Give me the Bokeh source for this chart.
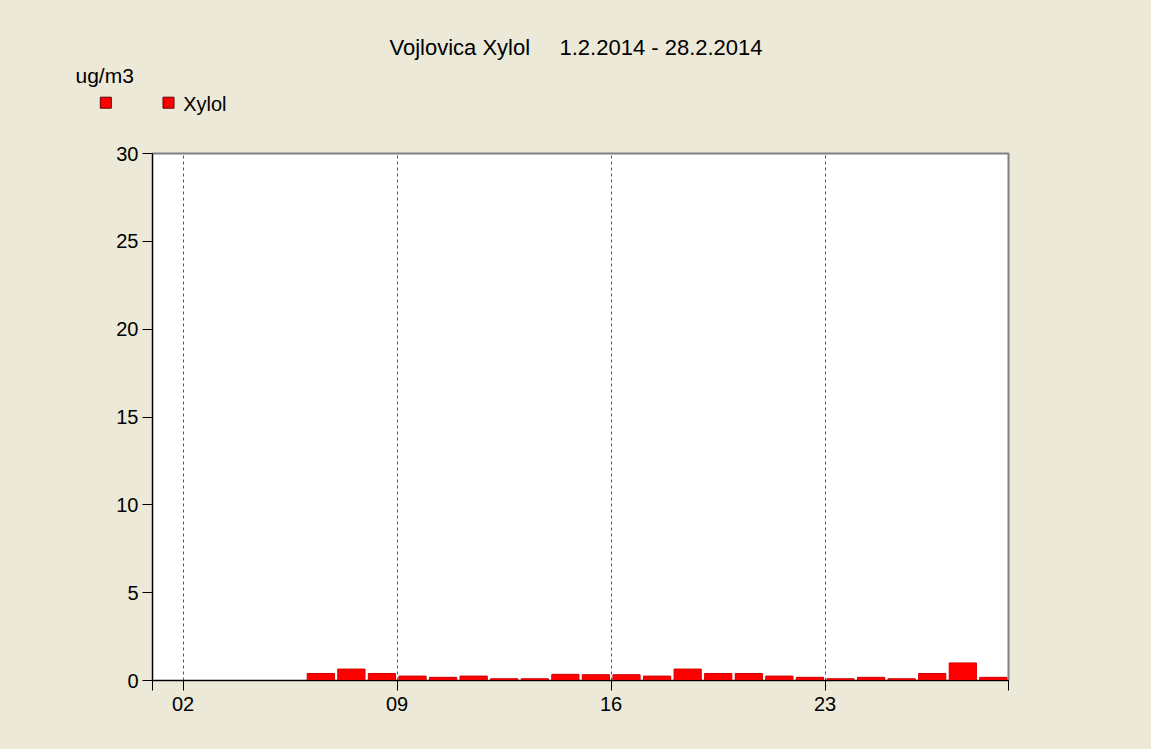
from bokeh.plotting import figure
from bokeh.models import Range1d, FixedTicker
from bokeh.layouts import column
from bokeh.core.properties import value
from bokeh.embed import file_html
from bokeh.resources import INLINE

# ---- data ----
days = [6, 7, 8, 9, 10, 11, 12, 13, 14, 15, 16, 17, 18, 19, 20, 21, 22, 23, 24, 25, 26, 27, 28]
xylol = [0.40, 0.65, 0.40, 0.25, 0.18, 0.25, 0.10, 0.10, 0.35, 0.33, 0.33, 0.25, 0.65,
         0.40, 0.40, 0.25, 0.18, 0.10, 0.18, 0.10, 0.40, 1.00, 0.18]
x_ticks = [1, 2, 9, 16, 23, 29]
x_tick_labels = {1: "", 2: "02", 9: "09", 16: "16", 23: "23", 29: ""}
y_ticks = [0, 5, 10, 15, 20, 25, 30]
title_station = "Vojlovica Xylol"
title_period = "1.2.2014 - 28.2.2014"
unit_label = "ug/m3"
series_name = "Xylol"

FONT = "Liberation Sans"
BG = "#ece9d8"
W = 1151
HEAD_H = 140

# ---- header (title + legend), pixel coordinates ----
head = figure(width=W, height=HEAD_H, output_backend="svg", toolbar_location=None,
              x_range=Range1d(0, W), y_range=Range1d(HEAD_H, 0),
              x_axis_type=None, y_axis_type=None, min_border=0)
head.frame_align = False
head.border_fill_color = BG
head.background_fill_color = BG
head.outline_line_color = None
head.grid.visible = False

txt = dict(text_font=value(FONT), text_color="black", text_baseline="alphabetic", text_align="left")
head.text(x=[389], y=[46.5], text=[title_station], text_font_size="22px", **txt)
head.text(x=[559], y=[46.5], text=[title_period], text_font_size="22px", **txt)
head.text(x=[75], y=[75], text=[unit_label], text_font_size="21px", **txt)
head.scatter(x=[105.3, 168.0], y=[102.2, 102.2], marker="square", size=11,
             fill_color="#ff0000", line_color="#600000", line_width=1)
head.text(x=[182.7], y=[103], text=[series_name], text_font_size="20px", **txt)

# ---- main chart ----
p = figure(width=W, height=749 - HEAD_H, output_backend="svg", toolbar_location=None,
           x_range=Range1d(1, 29), y_range=Range1d(0, 30),
           min_border_left=152, min_border_right=143, min_border_top=13, min_border_bottom=69)
p.frame_align = False
p.border_fill_color = BG
p.background_fill_color = "white"
p.outline_line_color = "#808080"
p.outline_line_width = 2

centers = [d + 0.505 for d in days]
p.vbar(x=centers, top=xylol, bottom=0, width=0.89, fill_color="#ff0000", line_color="#d00000", line_width=1)

p.xaxis.ticker = FixedTicker(ticks=x_ticks)
p.xaxis.major_label_overrides = x_tick_labels
p.yaxis.ticker = FixedTicker(ticks=y_ticks)
for ax in (p.xaxis, p.yaxis):
    ax.axis_line_color = "black"
    ax.major_tick_line_color = "black"
    ax.major_tick_out = 10
    ax.major_tick_in = 0
    ax.minor_tick_line_color = None
    ax.major_label_text_font = FONT
    ax.major_label_text_font_size = "20px"
    ax.major_label_text_color = "black"
p.xaxis.major_label_standoff = 6
p.yaxis.major_label_standoff = 4

p.ygrid.grid_line_color = None
p.xgrid.ticker = FixedTicker(ticks=[2, 9, 16, 23])
p.xgrid.grid_line_color = "#555555"
p.xgrid.grid_line_dash = "3 3"
p.xgrid.grid_line_width = 1

layout = column(head, p, spacing=0, styles={"background-color": BG})
open("out.html", "w").write(file_html(layout, INLINE))
